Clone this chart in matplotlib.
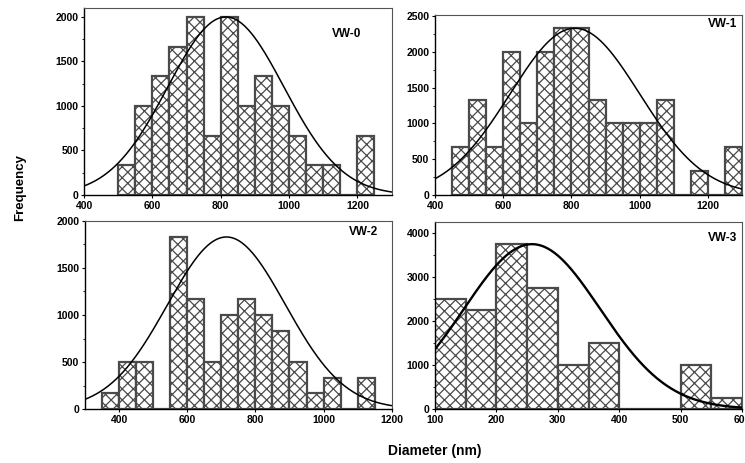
import numpy as np
import matplotlib
matplotlib.use("Agg")
import matplotlib.pyplot as plt
from matplotlib.ticker import MultipleLocator, AutoMinorLocator

plt.rcParams['font.family'] = ['Liberation Sans', 'DejaVu Sans']
plt.rcParams['font.weight'] = 'bold'
plt.rcParams['hatch.linewidth'] = 0.9

# histogram data: bin left edges (nm) and counts, bin width 50 nm
vw0_edges = [500, 550, 600, 650, 700, 750, 800, 850, 900, 950, 1000, 1050, 1100, 1150, 1200]
vw0_counts = [333, 1000, 1333, 1667, 2000, 667, 2000, 1000, 1333, 1000, 667, 333, 333, 0, 667]

vw1_edges = [450, 500, 550, 600, 650, 700, 750, 800, 850, 900, 950, 1000, 1050, 1100, 1150, 1200, 1250]
vw1_counts = [667, 1333, 667, 2000, 1000, 2000, 2333, 2333, 1333, 1000, 1000, 1000, 1333, 0, 333, 0, 667]

vw2_edges = [350, 400, 450, 500, 550, 600, 650, 700, 750, 800, 850, 900, 950, 1000, 1050, 1100]
vw2_counts = [167, 500, 500, 0, 1833, 1167, 500, 1000, 1167, 1000, 833, 500, 167, 333, 0, 333]

vw3_edges = [100, 150, 200, 250, 300, 350, 400, 450, 500, 550]
vw3_counts = [2500, 2250, 3750, 2750, 1000, 1500, 0, 0, 1000, 250]

# gaussian fit parameters (center, amplitude, sigma)
vw0_fit = (815, 2000, 170)
vw1_fit = (810, 2330, 190)
vw2_fit = (715, 1830, 173)
vw3_fit = (258, 3750, 111)

names = ['VW-0', 'VW-1', 'VW-2', 'VW-3']
xlims = [(400, 1300), (400, 1300), (300, 1200), (100, 600)]
ylims = [(0, 2100), (0, 2510), (0, 2000), (0, 4260)]
xsteps = [200, 200, 200, 100]
ysteps = [500, 500, 500, 1000]

# axes boxes in figure fractions (left, bottom, width, height)
boxes = [
    (0.1128, 0.5788, 0.4128, 0.4039),
    (0.5839, 0.5788, 0.4121, 0.3880),
    (0.1141, 0.1166, 0.4117, 0.4061),
    (0.5839, 0.1166, 0.4121, 0.4045),
]
title_pos = [(0.90, 0.895), (0.985, 0.985), (0.955, 0.975), (0.985, 0.945)]
curve_lw = [1.1, 1.1, 1.1, 1.7]

edges = [vw0_edges, vw1_edges, vw2_edges, vw3_edges]
counts = [vw0_counts, vw1_counts, vw2_counts, vw3_counts]
fits = [vw0_fit, vw1_fit, vw2_fit, vw3_fit]

fig = plt.figure(figsize=(7.45, 4.63), dpi=100)

for i in range(4):
    ax = fig.add_axes(boxes[i])
    ax.bar(edges[i], counts[i], width=50, align='edge', facecolor='white',
           edgecolor='#4a4a4a', linewidth=1.6, hatch='xxx')
    x = np.linspace(xlims[i][0], xlims[i][1], 400)
    xc, amp, s = fits[i]
    ax.plot(x, amp * np.exp(-(x - xc) ** 2 / (2 * s ** 2)), color='k', lw=curve_lw[i])
    ax.set_xlim(*xlims[i])
    ax.set_ylim(*ylims[i])
    ax.xaxis.set_major_locator(MultipleLocator(xsteps[i]))
    ax.yaxis.set_major_locator(MultipleLocator(ysteps[i]))
    ax.yaxis.set_minor_locator(AutoMinorLocator(2))
    ax.tick_params(labelsize=7.5, length=2.5, width=0.8, pad=1.5)
    ax.tick_params(which='minor', length=1.5, width=0.6)
    for lab in ax.get_xticklabels() + ax.get_yticklabels():
        lab.set_fontweight('bold')
    for sp in ['top', 'right']:
        ax.spines[sp].set_color('#555555')
        ax.spines[sp].set_linewidth(0.8)
    for sp in ['left', 'bottom']:
        ax.spines[sp].set_linewidth(1.0)
    ax.text(title_pos[i][0], title_pos[i][1], names[i], transform=ax.transAxes,
            ha='right', va='top', fontsize=8.5, fontweight='bold')

fig.text(0.027, 0.596, 'Frequency', rotation=90, ha='center', va='center',
         fontsize=9.5, fontweight='bold')
fig.text(0.584, 0.026, 'Diameter (nm)', ha='center', va='center',
         fontsize=10, fontweight='bold')

fig.savefig('out.png', dpi=100)
